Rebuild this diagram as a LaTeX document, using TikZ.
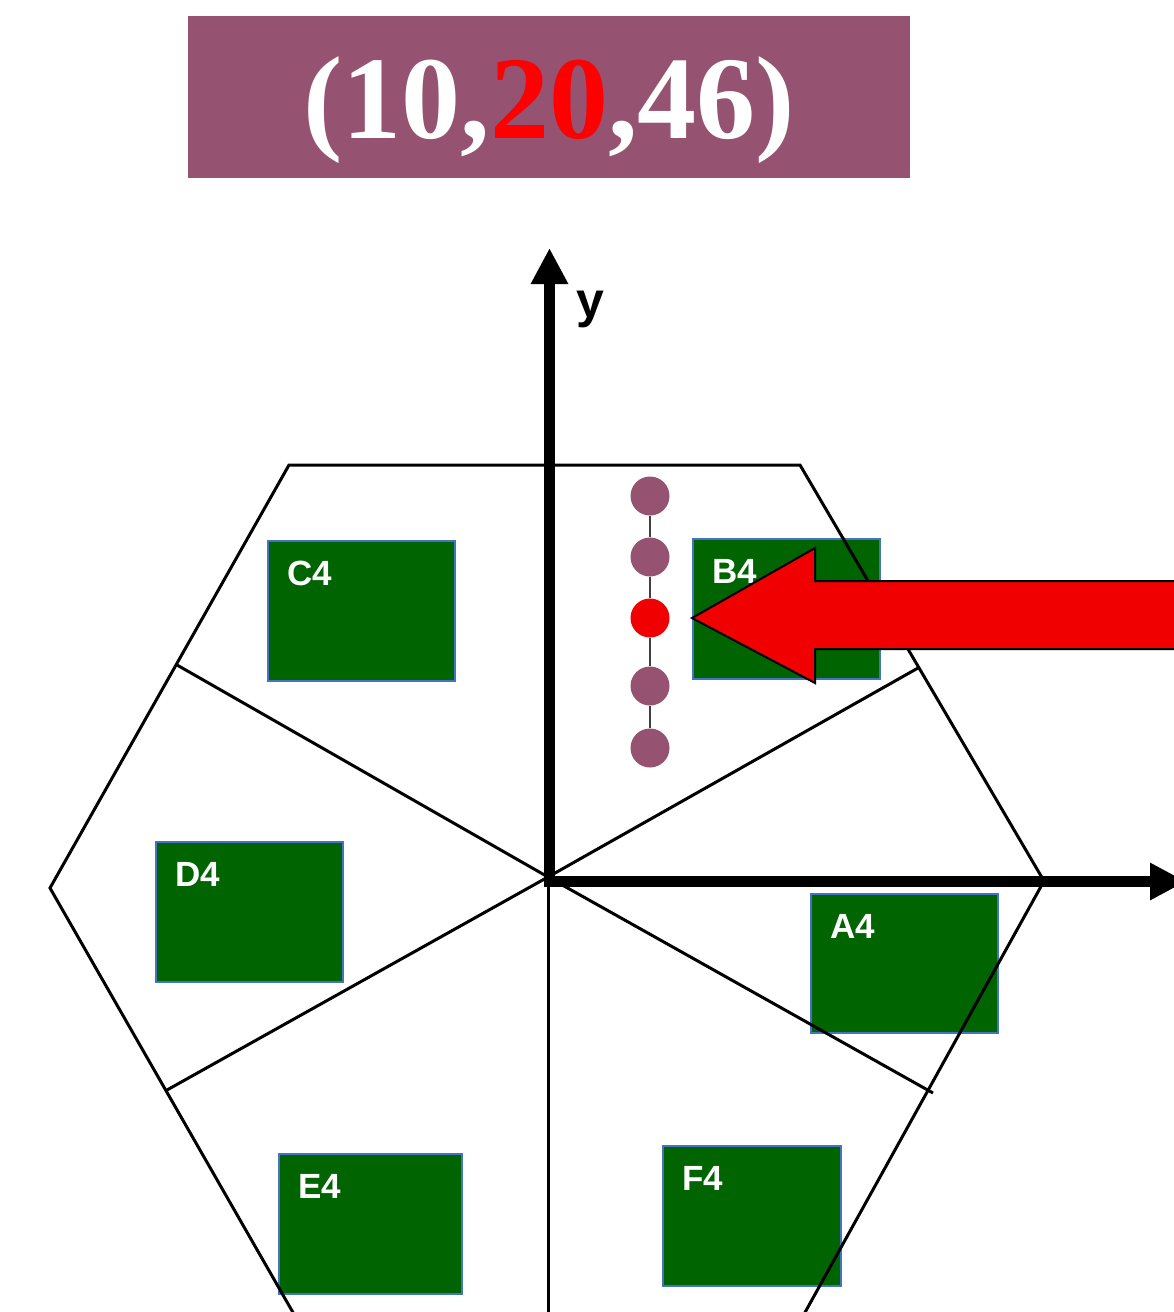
\documentclass[tikz,border=0pt]{standalone}
\usepackage{fontspec}
\setmainfont{Liberation Serif}
\newfontfamily\labelfont{Liberation Sans}
\usetikzlibrary{arrows.meta}
\definecolor{plum}{HTML}{955271}
\definecolor{boxgreen}{HTML}{006400}
\definecolor{boxedge}{HTML}{4472C4}
\definecolor{arrowred}{HTML}{F00000}
\definecolor{dotline}{HTML}{404040}
\tikzset{
  titlebox/.style={fill=plum, minimum width=722pt, minimum height=162pt, inner sep=0pt},
  titletext/.style={anchor=base, inner sep=0pt, text=white, font=\fontsize{118}{118}\selectfont\bfseries},
  gbox/.style={draw=boxedge, line width=1.5pt, fill=boxgreen, anchor=north west, inner sep=0pt},
  lbl/.style={anchor=north west, inner sep=0pt, text=white, xshift=20pt, yshift=-21pt, font=\labelfont\bfseries\fontsize{35}{35}\selectfont},
  hexline/.style={line width=3pt, line join=miter},
  axisline/.style={line width=11pt, -{Triangle[width=35pt,length=36pt]}},
  dotnode/.style={circle, fill=plum, minimum size=39pt, inner sep=0pt},
  bigarrow/.style={fill=arrowred, draw=black, line width=2pt, line join=miter}
}
\begin{document}
\begin{tikzpicture}[x=1pt,y=-1pt]
\useasboundingbox (0,0) rectangle (1174,1312);
\clip (0,0) rectangle (1174,1312);

% title
\node[titlebox] (title) at (549,97) {};
\node[titletext] (titletxt) at (549,138) {(10,\textcolor{red}{20},46)};

% green boxes
\node[gbox, minimum width=187pt, minimum height=140pt, label={[lbl]north west:C4}] (C4) at (267,540) {};
\node[gbox, minimum width=187pt, minimum height=140pt, label={[lbl]north west:B4}] (B4) at (692,538) {};
\node[gbox, minimum width=187pt, minimum height=140pt, label={[lbl]north west:D4}] (D4) at (155,841) {};
\node[gbox, minimum width=187pt, minimum height=139pt, label={[lbl]north west:A4}] (A4) at (810,893) {};
\node[gbox, minimum width=183pt, minimum height=140pt, label={[lbl]north west:E4}] (E4) at (278,1153) {};
\node[gbox, minimum width=178pt, minimum height=140pt, label={[lbl]north west:F4}] (F4) at (662,1145) {};

% hexagon
\coordinate (O) at (548,877);
\coordinate (hL) at (50,888);
\coordinate (hTL) at (289,465);
\coordinate (hTR) at (800,465);
\coordinate (hR) at (1044,881);
\coordinate (hBR) at (803,1316);
\coordinate (hBL) at (295,1316);
\draw[hexline] (hBL) -- (hL) -- (hTL) -- (hTR) -- (hR) -- (hBR);

% spokes
\coordinate (sUL) at (177,665);
\coordinate (sUR) at (918,668);
\coordinate (sLL) at (167,1090);
\coordinate (sLR) at (933,1093);
\coordinate (sD) at (548,1316);
\draw[hexline] (sUL) -- (O) -- (sLR);
\draw[hexline] (sUR) -- (O) -- (sLL);
\draw[hexline] (O) -- (sD);

% axes
\coordinate (ybase) at (549.5,887);
\coordinate (ytip) at (549.5,248);
\coordinate (xbase) at (544,881.5);
\coordinate (xtip) at (1186,881.5);
\draw[axisline] (ybase) -- (ytip);
\draw[axisline] (xbase) -- (xtip);
\node[anchor=base west, inner sep=0pt, font=\labelfont\bfseries\fontsize{50}{50}\selectfont] (ylabel) at (576,317) {y};

% dots
\node[dotnode] (d1) at (650,496) {};
\node[dotnode] (d2) at (650,557) {};
\node[dotnode, fill=arrowred] (d3) at (650,618) {};
\node[dotnode] (d4) at (650,686) {};
\node[dotnode] (d5) at (650,748) {};
\draw[dotline, line width=1.5pt] (d1) -- (d2);
\draw[dotline, line width=1.5pt] (d2) -- (d3);
\draw[dotline, line width=1.5pt] (d3) -- (d4);
\draw[dotline, line width=1.5pt] (d4) -- (d5);

% big red arrow
\coordinate (atip) at (692,618);
\draw[bigarrow] (atip) -- (815,548) -- (815,581) -- (1190,581) -- (1190,649) -- (815,649) -- (815,683) -- cycle;
\end{tikzpicture}
\end{document}
